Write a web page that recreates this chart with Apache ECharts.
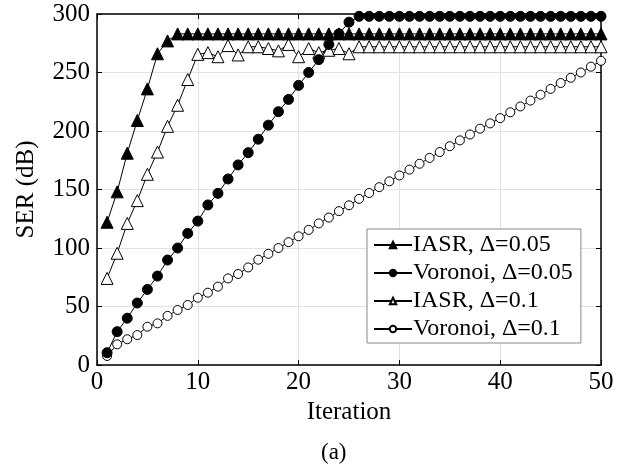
<!DOCTYPE html>
<html>
<head>
<meta charset="utf-8">
<script src="https://cdn.jsdelivr.net/npm/echarts@6/dist/echarts.min.js"></script>
<style>
  html, body { margin: 0; padding: 0; background: #fff; }
  #chart { width: 635px; height: 474px; }
</style>
</head>
<body>
<div id="chart"></div>
<script>
// iteration index 1..50
var iterations = [];
for (var i = 1; i <= 50; i++) iterations.push(i);

// SER (dB)
var iasr005 = [122, 148, 181, 209, 236, 266, 277, 283, 283, 283,
  283, 283, 283, 283, 283, 283, 283, 283, 283, 283,
  283, 283, 283, 283, 283, 283, 283, 283, 283, 283,
  283, 283, 283, 283, 283, 283, 283, 283, 283, 283,
  283, 283, 283, 283, 283, 283, 283, 283, 283, 283];
var voronoi005 = [10.5, 28.5, 40, 53, 64.6, 76, 89.7, 100, 112.5, 123,
  136.8, 146.7, 159, 171, 181.5, 193, 205, 216.5, 227, 239,
  250, 261, 274, 283, 293, 298, 298, 298, 298, 298,
  298, 298, 298, 298, 298, 298, 298, 298, 298, 298,
  298, 298, 298, 298, 298, 298, 298, 298, 298, 298];
var iasr01 = [74, 95.5, 121, 140.5, 163, 182, 204, 222, 244, 265.5,
  267, 263.5, 273, 265, 272, 272, 270.5, 268.5, 274, 263.5,
  270.5, 267, 269, 270.5, 266, 272, 272, 272, 272, 272,
  272, 272, 272, 272, 272, 272, 272, 272, 272, 272,
  272, 272, 272, 272, 272, 272, 272, 272, 272, 272];
var voronoi01 = [7.7, 17.7, 22, 25.6, 32.7, 35.6, 42, 47, 51.3, 57.5,
  61.8, 67, 74, 77.8, 83.4, 90, 95, 100, 105, 110,
  115.5, 121, 126, 131.5, 136.5, 142, 147, 152, 157, 162,
  167, 172, 177, 182, 187, 192, 197, 202, 206.5, 211,
  216, 221, 226, 231, 236, 241, 245.5, 250, 255, 260];

var xTicks = [0, 10, 20, 30, 40, 50];
var yTicks = [0, 50, 100, 150, 200, 250, 300];

var FONT = "'Liberation Serif', 'Times New Roman', serif";

function pairs(vals) {
  return vals.map(function (v, k) { return [iterations[k], v]; });
}

var myChart = echarts.init(document.getElementById("chart"));

var gridLine = { show: true, lineStyle: { color: "#e2e2e2", width: 1 } };
var tick = { show: true, inside: true, length: 5, lineStyle: { color: "#000" } };
var axisLine = { show: true, onZero: false, lineStyle: { color: "#000", width: 1.5 } };

var option = {
  animation: false,
  backgroundColor: "#fff",
  textStyle: { fontFamily: FONT, color: "#000" },
  title: {
    text: "(a)",
    left: 316,
    top: 436,
    textStyle: { fontFamily: FONT, fontSize: 23, fontWeight: "normal", color: "#000" }
  },
  grid: { left: 97, right: 34, top: 14, bottom: 109 },
  legend: {
    orient: "vertical",
    left: 367,
    top: 229,
    width: 212,
    padding: [4, 8, 2, 6],
    itemGap: 4,
    itemWidth: 38,
    itemHeight: 8,
    backgroundColor: "#fff",
    borderColor: "#888",
    borderWidth: 1,
    borderRadius: 0,
    textStyle: { fontFamily: FONT, fontSize: 24, color: "#000", padding: [0, 0, 0, -4] },
    data: ["IASR, Δ=0.05", "Voronoi, Δ=0.05", "IASR, Δ=0.1", "Voronoi, Δ=0.1"]
  },
  xAxis: [
    {
      type: "value", min: 0, max: 50, interval: 10,
      name: "Iteration", nameLocation: "middle", nameGap: 25,
      nameTextStyle: { fontFamily: FONT, fontSize: 25, color: "#000" },
      axisLine: axisLine, axisTick: tick, splitLine: gridLine,
      axisLabel: {
        fontFamily: FONT, fontSize: 25, color: "#000", margin: 5,
        formatter: function (v) { return xTicks.indexOf(v) >= 0 ? String(v) : ""; }
      }
    },
    {
      type: "value", position: "top", min: 0, max: 50, interval: 10,
      axisLine: axisLine, axisTick: tick, splitLine: { show: false },
      axisLabel: { show: false }
    }
  ],
  yAxis: [
    {
      type: "value", min: 0, max: 300, interval: 50,
      name: "SER (dB)", nameLocation: "middle", nameGap: 58, nameRotate: 90,
      nameTextStyle: { fontFamily: FONT, fontSize: 25, color: "#000" },
      axisLine: axisLine, axisTick: tick, splitLine: gridLine,
      axisLabel: {
        fontFamily: FONT, fontSize: 25, color: "#000", margin: 7,
        formatter: function (v) { return yTicks.indexOf(v) >= 0 ? String(v) : ""; }
      }
    },
    {
      type: "value", position: "right", min: 0, max: 300, interval: 50,
      axisLine: axisLine, axisTick: tick, splitLine: { show: false },
      axisLabel: { show: false }
    }
  ],
  series: [
    {
      name: "Voronoi, Δ=0.1", type: "line", data: pairs(voronoi01),
      symbol: "circle", symbolSize: 9, showAllSymbol: true,
      lineStyle: { color: "#000", width: 1 },
      itemStyle: { color: "#fff", borderColor: "#000", borderWidth: 1 }
    },
    {
      name: "IASR, Δ=0.1", type: "line", data: pairs(iasr01),
      symbol: "triangle", symbolSize: 12, showAllSymbol: true,
      lineStyle: { color: "#000", width: 1 },
      itemStyle: { color: "#fff", borderColor: "#000", borderWidth: 1 }
    },
    {
      name: "IASR, Δ=0.05", type: "line", data: pairs(iasr005),
      symbol: "triangle", symbolSize: 12, showAllSymbol: true,
      lineStyle: { color: "#000", width: 1 },
      itemStyle: { color: "#000", borderColor: "#000", borderWidth: 1 }
    },
    {
      name: "Voronoi, Δ=0.05", type: "line", data: pairs(voronoi005),
      symbol: "circle", symbolSize: 10, showAllSymbol: true,
      lineStyle: { color: "#000", width: 1 },
      itemStyle: { color: "#000", borderColor: "#000", borderWidth: 1 }
    }
  ]
};
myChart.setOption(option);
</script>
</body>
</html>
